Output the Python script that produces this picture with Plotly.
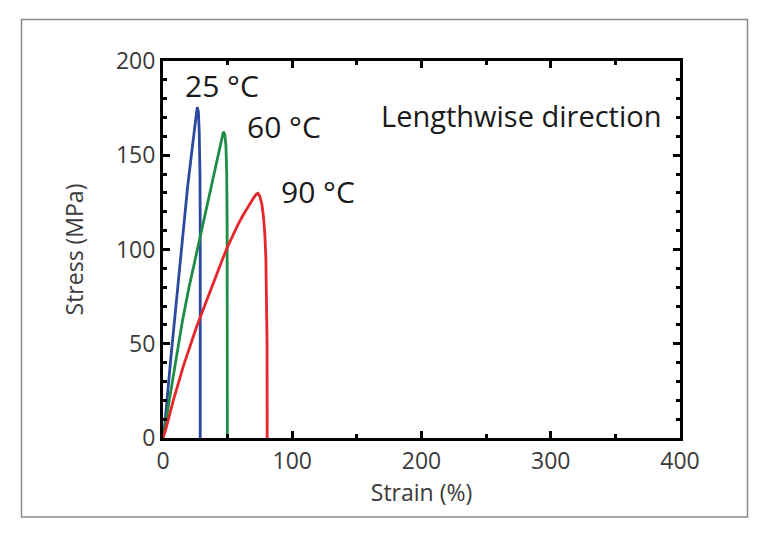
import plotly.graph_objects as go

# ---- data ----
strain_25 = [0, 1.5, 6, 13, 19, 23, 25.3, 26.5, 27.4, 28, 28.6, 28.8, 28.8]
stress_25 = [0, 8, 42, 92, 133, 156, 170, 175.5, 173, 163, 140, 110, 0]

strain_60 = [0, 1.5, 5, 10, 15, 20, 25, 30, 35, 40, 43.5, 45.5, 46.7, 47.8, 48.7, 49.3, 49.6, 49.8]
stress_60 = [0, 5, 20.5, 42, 62, 79.5, 95, 110.5, 125.5, 141, 152.5, 159, 162.5, 161, 155, 140, 115, 0]

strain_90 = [0, 2.3, 8, 15.7, 26, 36.4, 42, 46.7, 50, 54, 58, 62, 65, 68, 70.5, 72.2, 73.5, 75, 76.5, 77.8, 78.8, 79.6, 80.2, 80.5, 80.6]
stress_90 = [0, 5, 20, 38, 59, 78, 88, 96, 101.5, 107.5, 113.2, 118.3, 121.9, 125.2, 127.8, 129.4, 129.8, 128, 124, 117, 108, 95, 75, 50, 0]

series = [
    ("25 °C", strain_25, stress_25, "#2b4a9f"),
    ("60 °C", strain_60, stress_60, "#1f8c45"),
    ("90 °C", strain_90, stress_90, "#e5262b"),
]

label_text = ["25 °C", "60 °C", "90 °C", "Lengthwise direction"]
label_x = [45.6, 93.6, 120, 277]
label_y = [187, 165.5, 131, 171]

x_title = "Strain (%)"
y_title = "Stress (MPa)"

FONT = "Open Sans"

fig = go.Figure()
for name, xs, ys, col in series:
    fig.add_trace(go.Scatter(x=xs, y=ys, mode="lines", name=name,
                             line=dict(color=col, width=2.8, shape="linear"),
                             showlegend=False, hoverinfo="skip"))

for i, (t, x, y) in enumerate(zip(label_text, label_x, label_y)):
    fig.add_annotation(x=x, y=y, text=t, showarrow=False,
                       font=dict(family=FONT, size=30 if i < 3 else 29, color="#1a1a1a"),
                       xanchor="center", yanchor="middle")

axis_common = dict(
    showgrid=False, zeroline=False, showline=True, linecolor="black", linewidth=3,
    mirror="allticks", ticks="inside", tickcolor="black", tickwidth=2.5, ticklen=7,
    tickfont=dict(family=FONT, size=23, color="#3a3a3a"),
)

fig.update_xaxes(range=[0, 400], dtick=100, tick0=0,
                 minor=dict(dtick=50, ticks="inside", ticklen=4, tickwidth=2.5, tickcolor="black"),
                 title=dict(text=x_title, font=dict(family=FONT, size=23, color="#3a3a3a"), standoff=11),
                 **axis_common)
fig.update_yaxes(range=[0, 200], dtick=50, tick0=0,
                 minor=dict(dtick=10, ticks="inside", ticklen=4, tickwidth=2.5, tickcolor="black"),
                 title=dict(text=y_title, font=dict(family=FONT, size=23, color="#3a3a3a"), standoff=26),
                 **axis_common)

L, R, T, B = 163, 88, 61, 99
pw, ph = 768 - L - R, 537 - T - B
fig.add_shape(type="rect", xref="paper", yref="paper",
              x0=(21.5 - L) / pw, x1=(747.5 - L) / pw,
              y0=(537 - B - 517) / ph, y1=(537 - B - 19.5) / ph,
              line=dict(color="#8a8a8a", width=1.5), fillcolor="rgba(0,0,0,0)", layer="below")

fig.update_layout(width=768, height=537, margin=dict(l=L, r=R, t=T, b=B),
                  paper_bgcolor="white", plot_bgcolor="white",
                  font=dict(family=FONT))

fig.write_html("out.html", config={"displayModeBar": False},
               post_script="document.body.style.margin='0px';document.body.style.overflow='hidden';")
